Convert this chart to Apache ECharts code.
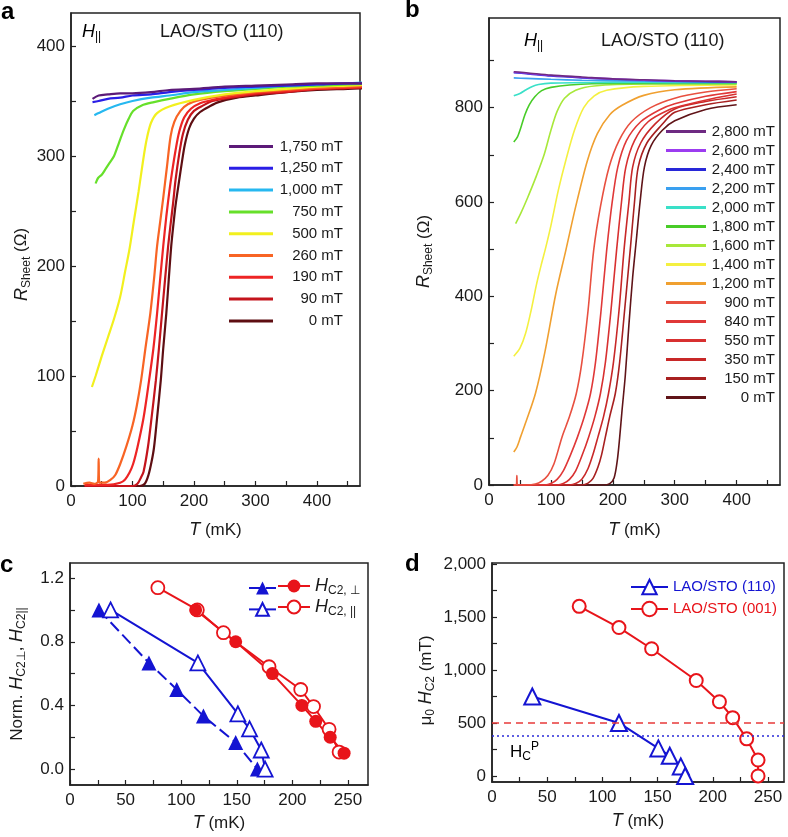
<!DOCTYPE html>
<html><head><meta charset="utf-8">
<script src="https://cdn.jsdelivr.net/npm/echarts@6/dist/echarts.min.js"></script>
<style>html,body{margin:0;padding:0;background:#fff}#chart{width:788px;height:837px}</style>
</head><body><div id="chart"></div>
<script>
// ---------- Panel a data: [T (mK), R_sheet (Ohm)] ----------
const aFields = ['1,750 mT','1,250 mT','1,000 mT','750 mT','500 mT','260 mT','190 mT','90 mT','0 mT'];
const a1750 = [[35,352],[45,355],[60,356],[80,357],[100,357],[130,358],[160,360],[200,361],[250,363],[300,364],[350,365],[400,366],[450,366],[475,366]];
const a1250 = [[35,349],[45,350],[60,352],[80,353],[100,355],[130,356],[160,358],[200,360],[250,362],[300,363],[350,364],[400,365],[450,366],[480,366]];
const a1000 = [[38,337],[45,339],[60,343],[80,347],[100,350],[130,353],[160,355],[200,358],[250,360],[300,362],[350,364],[400,365],[450,366],[485,367]];
const a750 = [[40,275],[44,280],[50,283],[56,288],[63,294],[70,300],[78,312],[86,324],[94,334],[101,341],[115,346],[135,349],[160,352],[200,356],[250,359],[300,361],[350,363],[400,364],[450,365],[490,366]];
const a500 = [[34,90],[40,100],[50,118],[60,135],[70,152],[80,172],[88,195],[95,215],[102,240],[110,268],[117,295],[123,315],[130,330],[140,339],[160,345],[200,351],[250,356],[300,359],[350,361],[400,363],[450,364],[490,365]];
const a260 = [[20,2],[30,3],[38,2],[44,4],[45,25],[46,3],[55,3],[65,6],[72,10],[80,20],[90,36],[100,55],[107,73],[114,96],[121,125],[129,157],[135,188],[140,218],[145,240],[150,262],[156,290],[162,318],[168,331],[178,341],[190,347],[210,351],[240,354],[300,358],[350,360],[400,362],[450,363],[495,364]];
const a190 = [[22,1],[60,1],[80,3],[88,6],[95,12],[101,20],[108,35],[118,62],[127,96],[134,125],[140,157],[145,188],[150,218],[155,245],[160,268],[164,284],[170,305],[176,322],[184,335],[195,343],[210,348],[230,351],[260,354],[300,357],[350,359],[400,361],[450,362],[495,363]];
const a90 = [[22,0],[60,0],[100,0],[108,2],[114,8],[118,13],[125,35],[131,62],[138,96],[143,125],[148,157],[153,188],[158,218],[162,238],[166,257],[170,278],[176,302],[182,320],[190,333],[200,341],[215,346],[230,350],[260,353],[300,356],[350,358],[400,361],[450,362],[495,363]];
const a0 = [[22,0],[60,0],[100,0],[112,0],[120,2],[126,10],[131,22],[135,35],[140,62],[146,96],[150,125],[155,157],[159,188],[163,218],[167,240],[170,255],[176,278],[180,293],[185,310],[192,325],[200,334],[210,340],[225,345],[240,349],[270,353],[300,355],[350,358],[400,360],[450,361],[495,362]];
const aCurves = [a1750,a1250,a1000,a750,a500,a260,a190,a90,a0];
const aXTicks = [0,50,100,150,200,250,300,350,400,450];
const aXLabels = [0,100,200,300,400];
const aYTicks = [0,50,100,150,200,250,300,350,400];
const aYLabels = [0,100,200,300,400];

// ---------- Panel b data ----------
const bFields = ['2,800 mT','2,600 mT','2,400 mT','2,200 mT','2,000 mT','1,800 mT','1,600 mT','1,400 mT','1,200 mT','900 mT','840 mT','550 mT','350 mT','150 mT','0 mT'];
const b2800 = [[40,876],[60,874],[100,869],[150,865],[200,861],[250,859],[300,857],[350,856],[400,855]];
const b2600 = [[40,875],[60,873],[100,868],[150,864],[200,861],[250,858],[300,857],[350,856],[400,855]];
const b2400 = [[40,874],[60,872],[100,867],[150,863],[200,860],[250,858],[300,856],[350,855],[400,854]];
const b2200 = [[40,863],[60,862],[100,860],[150,858],[200,857],[300,855],[400,854]];
const b2000 = [[40,825],[50,830],[60,838],[70,845],[80,849],[100,852],[150,853],[200,854],[300,853],[400,853]];
const b1800 = [[40,727],[46,738],[52,760],[58,785],[65,806],[74,823],[85,836],[100,843],[130,848],[200,851],[400,851]];
const b1600 = [[43,554],[52,578],[62,608],[75,650],[89,700],[100,752],[110,792],[122,820],[140,837],[170,846],[250,850],[400,850]];
const b1400 = [[40,273],[50,290],[59,321],[68,370],[77,427],[85,470],[91,500],[100,550],[112,625],[124,688],[138,752],[153,800],[170,825],[190,837],[250,845],[400,848]];
const b1200 = [[40,70],[45,80],[51,102],[60,135],[75,194],[90,280],[108,406],[124,497],[140,590],[159,688],[175,745],[195,785],[215,805],[250,826],[300,838],[400,844]];
const b900 = [[40,0],[44,0],[45,20],[46,0],[60,0],[75,2],[85,8],[95,20],[105,45],[118,102],[130,145],[141,194],[150,260],[160,370],[169,497],[180,590],[194,674],[210,730],[230,770],[261,800],[300,820],[350,833],[400,840]];
const b840 = [[40,0],[90,0],[100,3],[110,12],[120,30],[132,65],[143,102],[154,145],[164,194],[172,260],[181,370],[190,497],[199,600],[208,674],[222,730],[245,770],[275,795],[300,808],[350,824],[400,834]];
const b550 = [[40,0],[110,0],[120,3],[130,12],[140,30],[151,65],[161,102],[171,145],[180,194],[188,260],[197,370],[206,497],[214,600],[221,674],[235,730],[257,770],[290,795],[315,805],[360,819],[400,829]];
const b350 = [[40,0],[130,0],[140,3],[150,12],[160,35],[168,65],[176,102],[185,145],[193,194],[201,260],[210,370],[218,497],[226,600],[232,674],[245,725],[268,765],[300,797],[350,813],[400,823]];
const b150 = [[40,0],[150,0],[160,4],[168,14],[176,38],[182,65],[188,102],[195,145],[204,194],[211,260],[219,370],[228,497],[235,600],[241,674],[255,725],[278,762],[300,790],[350,806],[400,816]];
const b0 = [[40,0],[185,0],[195,3],[202,15],[207,50],[211,100],[215,160],[220,230],[226,340],[232,440],[238,520],[244,600],[251,674],[262,720],[280,752],[300,772],[350,796],[400,806]];
const bCurves = [b2800,b2600,b2400,b2200,b2000,b1800,b1600,b1400,b1200,b900,b840,b550,b350,b150,b0];
const bXTicks = [0,50,100,150,200,250,300,350,400,450];
const bXLabels = [0,100,200,300,400];
const bYTicks = [0,100,200,300,400,500,600,700,800,900];
const bYLabels = [0,200,400,600,800];

// ---------- Panel c data (normalized Hc2) ----------
const cT110perp = [26, 71, 96, 120, 149, 168.5];
const cN110perp = [1.0, 0.667, 0.5, 0.333, 0.167, 0.0];
const cT110par = [36.5, 115, 151, 161.5, 172, 175.5];
const cN110par = [1.0, 0.667, 0.347, 0.253, 0.12, 0.0];
const cT001perp = [113, 149, 182, 208.5, 221, 234, 246.5];
const cN001perp = [1.0, 0.8, 0.6, 0.4, 0.3, 0.2, 0.1];
const cT001par = [79, 114.5, 138, 179, 207.5, 219, 233, 242];
const cN001par = [1.14, 1.0, 0.857, 0.643, 0.5, 0.393, 0.25, 0.107];
const cXTicks = [0,25,50,75,100,125,150,175,200,225,250];
const cXLabels = [0,50,100,150,200,250];
const cYTicks = [0,0.2,0.4,0.6,0.8,1.0,1.2];
const cYLabels = [0,0.4,0.8,1.2];

// ---------- Panel d data (mu0 Hc2, mT) ----------
const dT110 = [36.5, 115, 150.7, 161, 171, 175];
const dH110 = [750, 500, 260, 190, 90, 0];
const dT001 = [79, 115, 144.6, 185, 206, 218, 230.7, 241, 241];
const dH001 = [1600, 1400, 1200, 900, 700, 550, 350, 150, 0];
const dRefLines = [500, 375];
const dXTicks = [0,25,50,75,100,125,150,175,200,225,250];
const dXLabels = [0,50,100,150,200,250];
const dYTicks = [0,250,500,750,1000,1250,1500,1750,2000];
const dYLabels = [0,500,1000,1500,2000];

// ---------- styles ----------
const aColors = ['#5c1a78','#2a1ee6','#26b8f0','#66e02a','#f2f01e','#f86424','#ee2424','#c4141c','#5e0e12'];
const bColors = ['#6e2a82','#9c3cf0','#2828d8','#3aa0f0','#3ae0c8','#48cc28','#a8e83a','#f4f040','#f0a030','#e85040','#e03838','#d83030','#c82828','#a82020','#601418'];
const BLUE = '#1414d2', RED = '#e8141a';
const FF = '"Liberation Sans", Arial, Helvetica, sans-serif';
const INK = '#1a1a1a';

const zip = (xs, ys) => xs.map((x, i) => [x, ys[i]]);
const commas = v => String(v).replace(/\B(?=(\d{3})+(?!\d))/g, ',');

const richBase = {
  i: {fontStyle: 'italic', fontSize: 18, lineHeight: 22, fontFamily: FF, color: INK},
  n: {fontSize: 17, lineHeight: 22, fontFamily: FF, color: INK},
  s: {fontSize: 12, lineHeight: 12, verticalAlign: 'bottom', fontFamily: FF, color: INK},
  u: {fontSize: 12, lineHeight: 12, verticalAlign: 'top', fontFamily: FF, color: INK}
};

function axisCommon(gi, min, max, ticks, labels, fmt, margin) {
  return {
    type: 'value', gridIndex: gi, min: min, max: max,
    axisLine: {show: true, onZero: false, lineStyle: {color: '#222', width: 1.5}},
    axisTick: {show: true, inside: true, length: 5, customValues: ticks, lineStyle: {color: '#222', width: 1.2}},
    axisLabel: {show: true, customValues: labels, margin: margin, fontSize: 17, color: INK, fontFamily: FF, formatter: fmt},
    splitLine: {show: false}, minorTick: {show: false}
  };
}
function xAx(gi, min, max, ticks, labels, gap, fmt) {
  return Object.assign(axisCommon(gi, min, max, ticks, labels, fmt || (v => String(v)), 7), {
    name: '{i|T}{n| (mK)}', nameLocation: 'middle', nameGap: gap,
    nameTextStyle: {rich: richBase}
  });
}
function yAx(gi, min, max, ticks, labels, name, gap, fmt, pad) {
  const nts = {rich: richBase};
  if (pad) nts.padding = pad;
  return Object.assign(axisCommon(gi, min, max, ticks, labels, fmt || (v => String(v)), 6), {
    name: name, nameLocation: 'middle', nameGap: gap, nameTextStyle: nts
  });
}

const series = [];
for (let k = aCurves.length - 1; k >= 0; k--) {
  series.push({type: 'line', name: 'a:' + aFields[k], xAxisIndex: 0, yAxisIndex: 0, data: aCurves[k],
    symbol: 'none', showSymbol: false, smooth: 0.3, clip: false, silent: true,
    lineStyle: {color: aColors[k], width: 2.2}, itemStyle: {color: aColors[k]}});
}
for (let k = bCurves.length - 1; k >= 0; k--) {
  series.push({type: 'line', name: 'b:' + bFields[k], xAxisIndex: 1, yAxisIndex: 1, data: bCurves[k],
    symbol: 'none', showSymbol: false, smooth: 0.3, silent: true,
    lineStyle: {color: bColors[k], width: 1.6}, itemStyle: {color: bColors[k]}});
}
// panel c
series.push({type: 'line', name: 'c:t_perp', xAxisIndex: 2, yAxisIndex: 2, data: zip(cT110perp, cN110perp),
  symbol: 'triangle', symbolSize: 15, showSymbol: true, silent: true,
  lineStyle: {color: BLUE, width: 2, type: [12, 5]}, itemStyle: {color: BLUE}});
series.push({type: 'line', name: 'c:t_par', xAxisIndex: 2, yAxisIndex: 2, data: zip(cT110par, cN110par),
  symbol: 'triangle', symbolSize: 15, showSymbol: true, silent: true,
  lineStyle: {color: BLUE, width: 2}, itemStyle: {color: '#fff', borderColor: BLUE, borderWidth: 1.8}});
series.push({type: 'line', name: 'c:c_par', xAxisIndex: 2, yAxisIndex: 2, data: zip(cT001par, cN001par),
  symbol: 'circle', symbolSize: 13, showSymbol: true, silent: true,
  lineStyle: {color: RED, width: 2}, itemStyle: {color: '#fff', borderColor: RED, borderWidth: 1.8}});
series.push({type: 'line', name: 'c:c_perp', xAxisIndex: 2, yAxisIndex: 2, data: zip(cT001perp, cN001perp),
  symbol: 'circle', symbolSize: 13, showSymbol: true, silent: true,
  lineStyle: {color: RED, width: 2}, itemStyle: {color: RED}});
// panel d
series.push({type: 'line', name: 'd:110', xAxisIndex: 3, yAxisIndex: 3, data: zip(dT110, dH110),
  symbol: 'triangle', symbolSize: 16, showSymbol: true, silent: true,
  lineStyle: {color: BLUE, width: 2}, itemStyle: {color: '#fff', borderColor: BLUE, borderWidth: 2},
  markLine: {silent: true, symbol: ['none', 'none'], label: {show: false},
    lineStyle: {color: '#2a2ad8', type: [2, 3], width: 1.5}, data: [{yAxis: dRefLines[1]}]}});
series.push({type: 'line', name: 'd:001', xAxisIndex: 3, yAxisIndex: 3, data: zip(dT001, dH001),
  symbol: 'circle', symbolSize: 13, showSymbol: true, silent: true,
  lineStyle: {color: RED, width: 2}, itemStyle: {color: '#fff', borderColor: RED, borderWidth: 2},
  markLine: {silent: true, symbol: ['none', 'none'], label: {show: false},
    lineStyle: {color: '#e83a3a', type: [7, 5], width: 1.5}, data: [{yAxis: dRefLines[0]}]}});

const stripName = n => n.slice(2);
const legendRight = (w) => ({rich: {t: {width: w, align: 'right', fontSize: 15, lineHeight: 20, fontFamily: FF, color: INK}}});

const option = {
  animation: false,
  backgroundColor: '#fff',
  textStyle: {fontFamily: FF},
  grid: [
    {left: 71, top: 13, width: 289, height: 473, show: true, borderColor: '#222', borderWidth: 1.5},
    {left: 489, top: 18, width: 291, height: 467, show: true, borderColor: '#222', borderWidth: 1.5},
    {left: 70, top: 563, width: 298, height: 222, show: true, borderColor: '#222', borderWidth: 1.5},
    {left: 492, top: 563, width: 292, height: 219, show: true, borderColor: '#222', borderWidth: 1.5}
  ],
  xAxis: [
    xAx(0, 0, 470, aXTicks, aXLabels, 33),
    xAx(1, 0, 470, bXTicks, bXLabels, 34),
    xAx(2, 0, 268, cXTicks, cXLabels, 27),
    xAx(3, 0, 264.5, dXTicks, dXLabels, 28)
  ],
  yAxis: [
    yAx(0, 0, 430, aYTicks, aYLabels, '{i|R}{s|Sheet}{n| (Ω)}', 38, null, [0, 30, 0, 0]),
    yAx(1, 0, 990, bYTicks, bYLabels, '{i|R}{s|Sheet}{n| (Ω)}', 54),
    yAx(2, -0.1, 1.295, cYTicks, cYLabels, '{n|Norm. }{i|H}{s|C2⊥}{n|, }{i|H}{s|C2||}', 42, v => v.toFixed(1)),
    yAx(3, -57, 2009, dYTicks, dYLabels, '{n|μ}{s|0}{n| }{i|H}{s|C2}{n| (mT)}', 55, v => commas(v), [0, 16, 0, 0])
  ],
  legend: [
    {orient: 'vertical', left: 224, top: 134, itemWidth: 44, itemHeight: 3, icon: 'rect', itemGap: 6.8,
     data: aFields.map(f => 'a:' + f), formatter: n => '{t|' + stripName(n) + '}', textStyle: legendRight(65),
     selectedMode: false},
    {orient: 'vertical', left: 661, top: 119, itemWidth: 40, itemHeight: 3, icon: 'rect', itemGap: 4,
     data: bFields.map(f => 'b:' + f), formatter: n => '{t|' + stripName(n) + '}', textStyle: legendRight(64),
     selectedMode: false},
    {orient: 'vertical', left: 243, top: 575, itemWidth: 27, itemHeight: 16, itemGap: 7,
     data: ['c:t_perp', 'c:t_par'], formatter: () => '', selectedMode: false},
    {orient: 'vertical', left: 272, top: 572, itemWidth: 32, itemHeight: 16, itemGap: 1,
     data: ['c:c_perp', 'c:c_par'],
     formatter: n => n === 'c:c_perp' ? '{i|H}{s|C2, ⊥}' : '{i|H}{s|C2, ||}',
     textStyle: {rich: richBase}, selectedMode: false},
    {orient: 'vertical', left: 625, top: 573, itemWidth: 37, itemHeight: 18, itemGap: 4,
     data: [{name: 'd:110', textStyle: {color: BLUE}}, {name: 'd:001', textStyle: {color: RED}}],
     formatter: n => n === 'd:110' ? 'LAO/STO (110)' : 'LAO/STO (001)',
     textStyle: {fontSize: 15, fontFamily: FF, lineHeight: 18}, selectedMode: false}
  ],
  graphic: [
    {type: 'text', left: 1, top: 0, style: {text: 'a', font: 'bold 24px ' + FF, fill: '#000'}},
    {type: 'text', left: 405, top: -2, style: {text: 'b', font: 'bold 24px ' + FF, fill: '#000'}},
    {type: 'text', left: 0, top: 553, style: {text: 'c', font: 'bold 24px ' + FF, fill: '#000'}},
    {type: 'text', left: 405, top: 552, style: {text: 'd', font: 'bold 24px ' + FF, fill: '#000'}},
    {type: 'text', left: 82, top: 23, style: {text: '{i|H}{s|||}', rich: richBase}},
    {type: 'text', left: 160, top: 23, style: {text: 'LAO/STO (110)', font: '18px ' + FF, fill: INK}},
    {type: 'text', left: 524, top: 32, style: {text: '{i|H}{s|||}', rich: richBase}},
    {type: 'text', left: 601, top: 32, style: {text: 'LAO/STO (110)', font: '18px ' + FF, fill: INK}},
    {type: 'text', left: 510, top: 741, style: {text: '{n|H}{s|C}{u|P}', rich: richBase}}
  ],
  series: series
};

const chart = echarts.init(document.getElementById('chart'), null, {renderer: 'canvas'});
chart.setOption(option);
</script></body></html>
